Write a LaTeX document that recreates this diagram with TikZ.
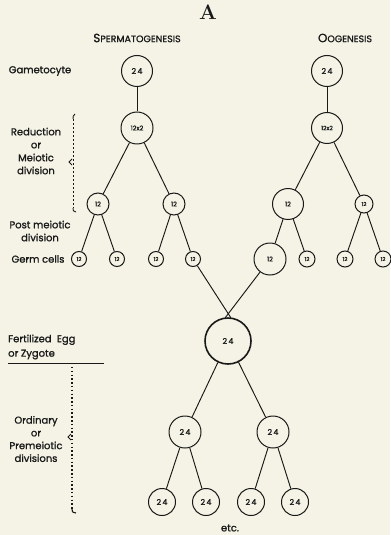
\documentclass[tikz,border=0pt]{standalone}
\usepackage{fontspec}
\newfontfamily\pop{Poppins}[FakeBold=1.2]
\usetikzlibrary{calc}
\definecolor{paper}{RGB}{245,243,230}
\definecolor{ink}{RGB}{25,25,25}
\begin{document}
\begin{tikzpicture}[x=1bp,y=-1bp,
  cell/.style={circle, draw=ink, line width=1pt, inner sep=0pt, text=ink, font=\pop\fontsize{8}{8}\selectfont},
  lab/.style={text=ink, font=\pop\fontsize{10}{12.5}\selectfont, align=center, inner sep=0pt},
  head/.style={text=ink, inner sep=0pt},
  conn/.style={draw=ink, line width=0.95pt}]
\fill[paper] (0,0) rectangle (390,535);
\useasboundingbox (0,0) rectangle (390,535);
% titles
\node[head, font=\bfseries\fontsize{21}{21}\selectfont] (title) at (208,12) {A};
\node[head] (sp) at (137,38) {\pop{\fontsize{12}{12}\selectfont S}{\fontsize{9.5}{9.5}\selectfont PERMATOGENESIS}};
\node[head] (oo) at (345,38) {\pop{\fontsize{12}{12}\selectfont O}{\fontsize{9.5}{9.5}\selectfont OGENESIS}};
% left labels
\node[lab] (lg) at (40,71) {Gametocyte};
\node[lab, font=\pop\fontsize{10}{13}\selectfont] (lr) at (36,151) {Reduction\\or\\Meiotic\\division};
\node[lab, font=\pop\fontsize{10}{13}\selectfont] (lp) at (40,231) {Post meiotic\\division};
\node[lab] (lgc) at (38,259) {Germ cells};
\node[lab, align=left, anchor=west, font=\pop\fontsize{10}{14.5}\selectfont] (lf) at (8,347) {Fertilized\ \ Egg\\or Zygote};
\node[lab, font=\pop\fontsize{10}{12.8}\selectfont] (lo) at (36,439) {Ordinary\\or\\Premeiotic\\divisions};
\node[lab] (etc) at (230,528) {etc.};
% spermatogenesis
\node[cell, minimum size=31bp] (s1) at (137,71) {2\,4};
\node[cell, minimum size=32bp, font=\pop\fontsize{6.5}{7}\selectfont] (s2) at (137,128) {12x2};
\node[cell, minimum size=22bp, font=\pop\fontsize{6.5}{7}\selectfont] (s3) at (98,204) {12};
\node[cell, minimum size=22bp, font=\pop\fontsize{6.5}{7}\selectfont] (s4) at (174,204) {12};
\node[cell, minimum size=15bp, font=\pop\fontsize{5.5}{6}\selectfont] (g1) at (79,259) {12};
\node[cell, minimum size=15bp, font=\pop\fontsize{5.5}{6}\selectfont] (g2) at (117,259) {12};
\node[cell, minimum size=15bp, font=\pop\fontsize{5.5}{6}\selectfont] (g3) at (156,259) {12};
\node[cell, minimum size=15bp, font=\pop\fontsize{5.5}{6}\selectfont] (g4) at (193,259) {12};
% oogenesis
\node[cell, minimum size=31bp] (o1) at (327,71) {2\,4};
\node[cell, minimum size=31bp, font=\pop\fontsize{6}{7}\selectfont] (o2) at (327,128) {12x2};
\node[cell, minimum size=31bp, font=\pop\fontsize{6.5}{7}\selectfont] (o3) at (288,204) {12};
\node[cell, minimum size=18bp, font=\pop\fontsize{5.5}{6}\selectfont] (o4) at (364,204) {12};
\node[cell, minimum size=32bp, font=\pop\fontsize{6.5}{7}\selectfont] (r1) at (270,259) {12};
\node[cell, minimum size=16bp, font=\pop\fontsize{5.5}{6}\selectfont] (r2) at (307,259) {12};
\node[cell, minimum size=16bp, font=\pop\fontsize{5.5}{6}\selectfont] (r3) at (345,259) {12};
\node[cell, minimum size=16bp, font=\pop\fontsize{5.5}{6}\selectfont] (r4) at (383,259) {12};
% zygote and descendants
\node[cell, minimum size=46bp, line width=1.6pt] (z) at (228,341) {2\,4};
\node[cell, minimum size=32bp] (d1) at (185,432) {2\,4};
\node[cell, minimum size=32bp] (d2) at (273,432) {2\,4};
\node[cell, minimum size=27bp] (e1) at (162,502) {2\,4};
\node[cell, minimum size=27bp] (e2) at (206,502) {2\,4};
\node[cell, minimum size=27bp] (e3) at (251,502) {2\,4};
\node[cell, minimum size=27bp] (e4) at (295,502) {2\,4};
% connectors
\draw[conn] (s1) -- (s2);
\draw[conn] (s2) -- (s3); \draw[conn] (s2) -- (s4);
\draw[conn] (s3) -- (g1); \draw[conn] (s3) -- (g2);
\draw[conn] (s4) -- (g3); \draw[conn] (s4) -- (g4);
\draw[conn] (o1) -- (o2);
\draw[conn] (o2) -- (o3); \draw[conn] (o2) -- (o4);
\draw[conn] (o3) -- (r1); \draw[conn] (o3) -- (r2);
\draw[conn] (o4) -- (r3); \draw[conn] (o4) -- (r4);
\coordinate (zl) at (231,318);
\coordinate (zr) at (225,318);
\draw[conn] (g4) -- (zl);
\draw[conn] (r1) -- (zr);
\draw[conn] (z) -- (d1); \draw[conn] (z) -- (d2);
\draw[conn] (d1) -- (e1); \draw[conn] (d1) -- (e2);
\draw[conn] (d2) -- (e3); \draw[conn] (d2) -- (e4);
% brackets
\coordinate (b1t) at (73,119);
\coordinate (b1b) at (73,208);
\draw[ink, line width=0.9pt, dash pattern=on 2.4pt off 1.6pt] (b1t) -- (b1b);
\draw[ink, line width=0.9pt] (b1t) .. controls (73,116) .. (75,114);
\draw[ink, line width=0.9pt] (b1b) .. controls (73,211) .. (76,212);
\draw[ink, line width=0.8pt] (72,159) -- (69,162) -- (72,165);
\coordinate (ul1) at (8,363);
\coordinate (ul2) at (104,363);
\draw[ink, line width=0.9pt] (ul1) -- (ul2);
\coordinate (b2t) at (72,367);
\coordinate (b2b) at (72,509);
\draw[ink, line width=1.1pt, dash pattern=on 1.5pt off 2.3pt] (b2t) -- (b2b);
\draw[ink, line width=1.1pt] (b2b) .. controls (72,512) .. (76,513);
\draw[ink, line width=0.8pt] (71,434) -- (68,437) -- (71,440);
\end{tikzpicture}
\end{document}
